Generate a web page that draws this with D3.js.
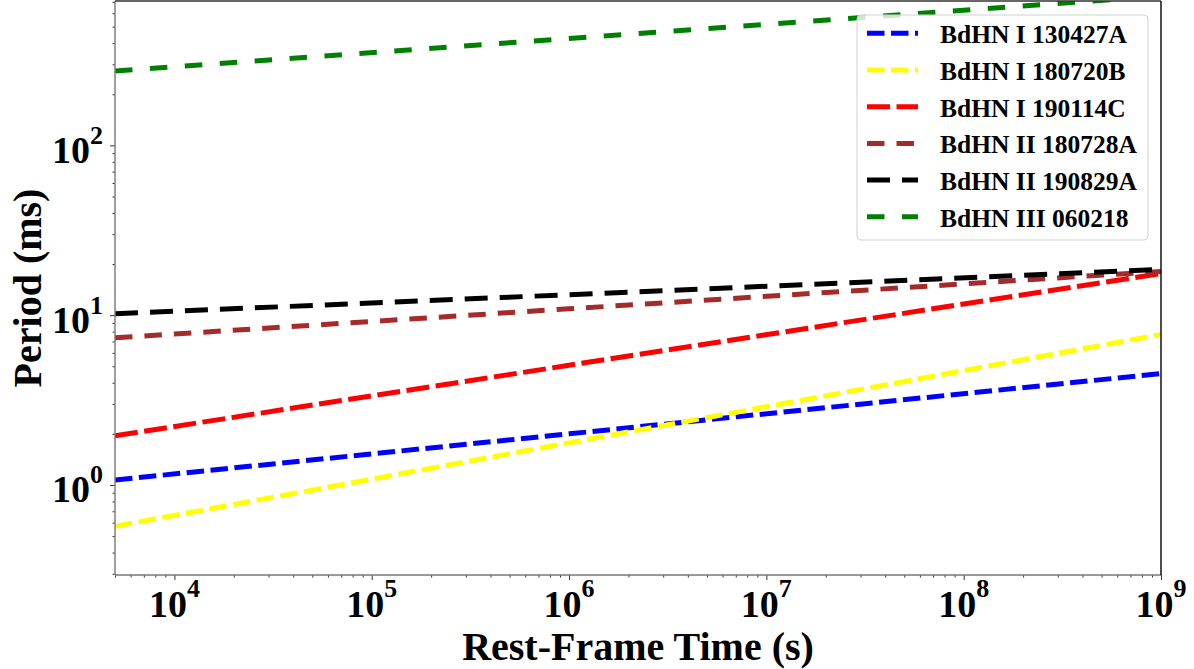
<!DOCTYPE html>
<html>
<head>
<meta charset="utf-8">
<script src="https://cdn.jsdelivr.net/npm/d3@7"></script>
<style>
  html, body { margin: 0; padding: 0; background: #fff; }
  svg { display: block; }
  text { font-family: "Liberation Serif", "Times New Roman", serif; font-weight: bold; fill: #000; }
</style>
</head>
<body>
<svg id="chart" width="1194" height="669"></svg>
<script>
// ---- data ----
const times = [5e3, 1e6, 1e9];                 // rest-frame time (s)
const seriesNames = ["BdHN I 130427A", "BdHN I 180720B", "BdHN I 190114C",
                     "BdHN II 180728A", "BdHN II 190829A", "BdHN III 060218"];
const period130427A = [1.07, 2.0, 4.53];
const period180720B = [0.571, 1.77, 7.70];
const period190114C = [1.95, 5.07, 17.6];
const period180728A = [7.35, 10.9, 18.1];
const period190829A = [10.2, 13.2, 18.6];
const period060218  = [274, 426, 757];
const seriesValues = [period130427A, period180720B, period190114C,
                      period180728A, period190829A, period060218];
const seriesColors = ["#0000ff", "#ffff00", "#ff0000", "#a52a2a", "#000000", "#008000"];
const seriesDashes = ["17.5,6.5", "17.5,6.5", "23,6.5", "17.5,12", "23,12", "17.5,17.5"];
const xTickExps = [4, 5, 6, 7, 8, 9];
const yTickExps = [0, 1, 2];
const xLabel = "Rest-Frame Time (s)";
const yLabel = "Period (ms)";

// ---- layout ----
const W = 1194, H = 669;
const L = 115, R = 1161, T = 1, B = 575;
const svg = d3.select("#chart");

const x = d3.scaleLog().domain([5e3, 1e9]).range([L, R]);
const y = d3.scaleLog().domain([0.295, 708]).range([B, T]);

// clip
svg.append("defs").append("clipPath").attr("id", "clip")
  .append("rect").attr("x", L).attr("y", T).attr("width", R - L).attr("height", B - T);

// minor tick values
function minorTicks(lo, hi) {
  const out = [];
  for (let e = Math.floor(Math.log10(lo)); e <= Math.ceil(Math.log10(hi)); e++) {
    for (let m = 2; m <= 9; m++) {
      const v = m * Math.pow(10, e);
      if (v >= lo && v <= hi) out.push(v);
    }
  }
  return out;
}
const xMajor = xTickExps.map(e => Math.pow(10, e));
const yMajor = yTickExps.map(e => Math.pow(10, e));

// x axis ticks
const gx = svg.append("g").attr("transform", `translate(0,${B})`);
gx.call(d3.axisBottom(x).tickValues(xMajor).tickSize(5).tickFormat(""));
const gxm = svg.append("g").attr("transform", `translate(0,${B})`);
gxm.call(d3.axisBottom(x).tickValues(minorTicks(5e3, 1e9)).tickSize(2.5).tickFormat(""));
[gx, gxm].forEach(g => { g.select(".domain").remove(); g.selectAll("line").attr("stroke", "#333").attr("stroke-width", 1); });

// y axis ticks
const gy = svg.append("g").attr("transform", `translate(${L},0)`);
gy.call(d3.axisLeft(y).tickValues(yMajor).tickSize(5).tickFormat(""));
const gym = svg.append("g").attr("transform", `translate(${L},0)`);
gym.call(d3.axisLeft(y).tickValues(minorTicks(0.295, 708)).tickSize(2.5).tickFormat(""));
[gy, gym].forEach(g => { g.select(".domain").remove(); g.selectAll("line").attr("stroke", "#333").attr("stroke-width", 1); });

// tick labels with superscripts
xTickExps.forEach(e => {
  const t = svg.append("text").attr("x", x(Math.pow(10, e))).attr("y", B + 42)
    .attr("text-anchor", "middle").style("font-size", "38px");
  t.append("tspan").text("10");
  t.append("tspan").attr("dy", -20).style("font-size", "26px").text(String(e));
});
yTickExps.forEach(e => {
  const t = svg.append("text").attr("x", L - 12).attr("y", y(Math.pow(10, e)) + 17.5)
    .attr("text-anchor", "end").style("font-size", "38px");
  t.append("tspan").text("10");
  t.append("tspan").attr("dy", -19).style("font-size", "26px").text(String(e));
});

// lines
const line = d3.line().x(d => x(d[0])).y(d => y(d[1]));
const plot = svg.append("g").attr("clip-path", "url(#clip)");
seriesValues.forEach((vals, i) => {
  plot.append("path")
    .datum(times.map((t, j) => [t, vals[j]]))
    .attr("d", line)
    .attr("fill", "none")
    .attr("stroke", seriesColors[i])
    .attr("stroke-width", 5)
    .attr("stroke-dasharray", seriesDashes[i]);
});

// spines
svg.append("line").attr("x1", L).attr("x2", L).attr("y1", T).attr("y2", B).attr("stroke", "#777").attr("stroke-width", 1.4);
svg.append("line").attr("x1", L).attr("x2", R).attr("y1", B).attr("y2", B).attr("stroke", "#777").attr("stroke-width", 1.4);
svg.append("line").attr("x1", R).attr("x2", R).attr("y1", T).attr("y2", B).attr("stroke", "#000").attr("stroke-width", 1.4);
svg.append("line").attr("x1", L).attr("x2", R).attr("y1", T).attr("y2", T).attr("stroke", "#333").attr("stroke-width", 1.4);

// axis titles
svg.append("text").attr("x", (L + R) / 2).attr("y", 660).attr("text-anchor", "middle")
  .style("font-size", "40px").text(xLabel);
svg.append("text").attr("transform", `translate(41,${(T + B) / 2}) rotate(-90)`)
  .attr("text-anchor", "middle").style("font-size", "40px").text(yLabel);

// legend
const lg = svg.append("g");
lg.append("rect").attr("x", 857).attr("y", 15).attr("width", 291).attr("height", 225)
  .attr("rx", 4).attr("fill", "#fff").attr("fill-opacity", 0.8)
  .attr("stroke", "#d0d0d0").attr("stroke-width", 1);
seriesNames.forEach((name, i) => {
  const ly = 33.3 + i * 36.7;
  lg.append("line").attr("x1", 867).attr("x2", 918).attr("y1", ly).attr("y2", ly)
    .attr("stroke", seriesColors[i]).attr("stroke-width", 5)
    .attr("stroke-dasharray", seriesDashes[i]);
  lg.append("text").attr("x", 940).attr("y", ly + 10).style("font-size", "25.5px").text(name);
});
</script>
</body>
</html>
